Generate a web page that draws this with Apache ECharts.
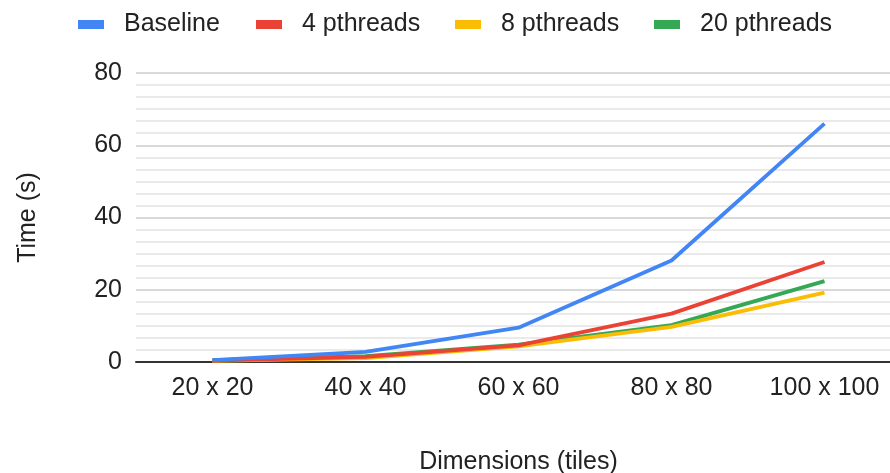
<!DOCTYPE html>
<html><head><meta charset="utf-8">
<script src="https://cdn.jsdelivr.net/npm/echarts@6/dist/echarts.min.js"></script>
<style>html,body{margin:0;padding:0;background:#fff}#c{width:890px;height:473px}</style>
</head><body><div id="c"></div>
<script>
const categories = ['20 x 20', '40 x 40', '60 x 60', '80 x 80', '100 x 100'];
const baseline = [0.5, 2.8, 9.5, 28.1, 66.0];
const p4 = [0.4, 1.4, 4.6, 13.4, 27.7];
const p8 = [0.3, 1.1, 4.3, 9.7, 19.2];
const p20 = [0.5, 1.6, 4.8, 10.2, 22.4];
const yTicks = [0, 20, 40, 60, 80];
const names = ['Baseline', '4 pthreads', '8 pthreads', '20 pthreads'];
const colors = ['#4285f4', '#ea4335', '#fbbc04', '#34a853'];
const seriesData = [baseline, p4, p8, p20];
const legendLeft = [73, 251, 450, 649];

const font = '"Liberation Sans", Arial, sans-serif';
const chart = echarts.init(document.getElementById('c'), null, {renderer: 'canvas'});
chart.setOption({
  animation: false,
  color: colors,
  textStyle: {fontFamily: font},
  legend: names.map((n, i) => ({
    top: 7, left: legendLeft[i],
    itemWidth: 26, itemHeight: 9,
    icon: 'rect',
    textStyle: {fontSize: 25, color: '#222', fontFamily: font, padding: [0, 0, 0, 15]},
    data: [n]
  })),
  grid: {left: 136, top: 73, width: 765, height: 289, containLabel: false, outerBoundsMode: 'none'},
  xAxis: {
    type: 'category', data: categories, boundaryGap: true,
    name: 'Dimensions (tiles)', nameLocation: 'middle', nameGap: 88,
    nameTextStyle: {fontSize: 25, color: '#222', fontFamily: font},
    axisLine: {show: true, lineStyle: {color: '#333', width: 2}},
    axisTick: {show: false},
    axisLabel: {fontSize: 25, color: '#222', margin: 14, fontFamily: font, interval: 0}
  },
  yAxis: {
    type: 'value', min: yTicks[0], max: yTicks[yTicks.length - 1], interval: 20,
    name: 'Time (s)', nameLocation: 'middle', nameGap: 95, nameRotate: 90,
    nameTextStyle: {fontSize: 25, color: '#222', fontFamily: font},
    axisLine: {show: false}, axisTick: {show: false},
    axisLabel: {fontSize: 25, color: '#222', margin: 14, fontFamily: font},
    splitLine: {lineStyle: {color: '#cccccc', width: 1.5}},
    minorTick: {show: false, splitNumber: 6},
    minorSplitLine: {show: true, lineStyle: {color: '#e3e3e3', width: 1.5}}
  },
  series: names.map((n, i) => ({
    name: n, type: 'line', data: seriesData[i],
    showSymbol: false, symbol: 'none',
    lineStyle: {width: 3.8, color: colors[i]},
    z: 10 - i
  }))
});
</script></body></html>
